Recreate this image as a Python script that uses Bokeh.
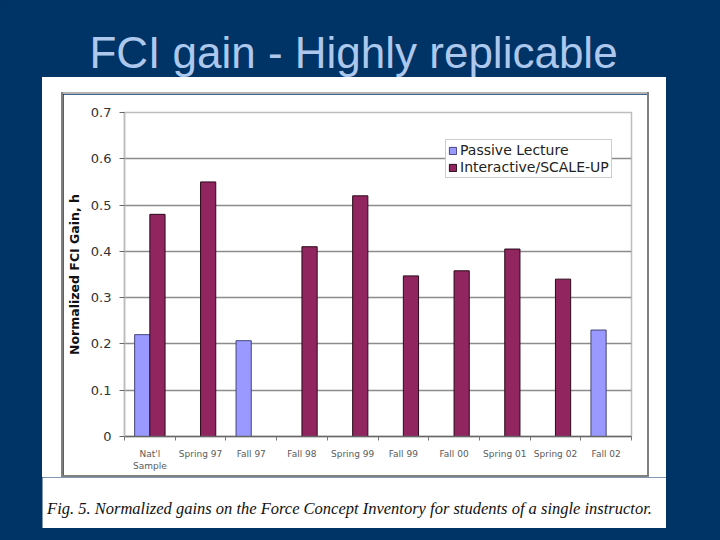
from bokeh.plotting import figure
from bokeh.layouts import column, row
from bokeh.models import (Range1d, FixedTicker, Label, ColumnDataSource, Legend, LegendItem, Spacer)
from bokeh.embed import file_html
from bokeh.resources import INLINE

# ---- data ----
categories = ["Nat'l\nSample", "Spring 97", "Fall 97", "Fall 98", "Spring 99",
              "Fall 99", "Fall 00", "Spring 01", "Spring 02", "Fall 02"]
passive = [0.22, None, 0.207, None, None, None, None, None, None, 0.23]
interactive = [0.48, 0.55, None, 0.41, 0.52, 0.347, 0.358, 0.405, 0.34, None]
series_names = ["Passive Lecture", "Interactive/SCALE-UP"]
y_ticks = [0, 0.1, 0.2, 0.3, 0.4, 0.5, 0.6, 0.7]
y_tick_labels = ["0", "0.1", "0.2", "0.3", "0.4", "0.5", "0.6", "0.7"]
title_text = "FCI gain - Highly replicable"
caption_text = "Fig. 5. Normalized gains on the Force Concept Inventory for students of a single instructor."
y_label = "Normalized FCI Gain, h"

# ---- style ----
BG = "#003366"
TITLE_COLOR = "#ADC8EC"
PASSIVE_COLOR = "#9999FF"
INTER_COLOR = "#912560"
BOX_LIGHT = "#b4b4b4"
BOX_DARK = "#808080"
BAR_W = 0.30
TITLE_SIZE = 44
CAP_SIZE = 16.5
BASE_SHIFT = 0.36   # empirical em offset of the label anchor above the baseline


def block(w, h, color=None):
    if color is None:
        return Spacer(width=w, height=h)
    return Spacer(width=w, height=h, styles={"background-color": color})


def deco_fig(w, h, fill):
    f = figure(width=w, height=h, output_backend="svg", toolbar_location=None,
               x_range=Range1d(0, w), y_range=Range1d(h, 0),
               min_border=0, border_fill_color=fill, background_fill_color=fill,
               outline_line_color=None)
    f.axis.visible = False
    f.grid.visible = False
    return f


# ---- slide title ----
title_fig = deco_fig(720, 77, BG)
title_fig.add_layout(Label(x=353, y=68 - BASE_SHIFT * TITLE_SIZE, text=title_text, text_align="center",
                           text_baseline="alphabetic", text_font="Liberation Sans",
                           text_font_size=f"{TITLE_SIZE}px", text_color=TITLE_COLOR))

# ---- chart ----
CW, CH = 584, 381          # chart canvas (page x 63..647, y 94..475)
p = figure(width=CW, height=CH, output_backend="svg", toolbar_location=None,
           x_range=Range1d(0, len(categories)), y_range=Range1d(0, 0.7),
           min_border_left=55, min_border_right=16, min_border_top=18, min_border_bottom=39,
           border_fill_color="white", background_fill_color="white",
           outline_line_color="#bdbdbd", outline_line_width=1.5)

px_ = [i + 0.5 - BAR_W / 2 for i, v in enumerate(passive) if v is not None]
pv = [v for v in passive if v is not None]
ix_ = [i + 0.5 + BAR_W / 2 for i, v in enumerate(interactive) if v is not None]
iv = [v for v in interactive if v is not None]
r_p = p.vbar(x="x", top="top", bottom=0, width=BAR_W, source=ColumnDataSource(dict(x=px_, top=pv)),
             fill_color=PASSIVE_COLOR, line_color="#45457a", line_width=1)
r_i = p.vbar(x="x", top="top", bottom=0, width=BAR_W, source=ColumnDataSource(dict(x=ix_, top=iv)),
             fill_color=INTER_COLOR, line_color="#2a0a1a", line_width=1)

p.xaxis.ticker = FixedTicker(ticks=[i + 0.5 for i in range(len(categories))],
                             minor_ticks=list(range(len(categories) + 1)))
p.xaxis.major_label_overrides = {i + 0.5: c for i, c in enumerate(categories)}
p.xaxis.major_tick_out = 0
p.xaxis.major_tick_in = 0
p.xaxis.minor_tick_out = 4
p.xaxis.minor_tick_in = 0
p.xaxis.minor_tick_line_color = "#777777"
p.xaxis.axis_line_color = "#666666"
p.xaxis.axis_line_width = 1.5
p.xaxis.major_label_standoff = 8
p.xaxis.major_label_text_font = "DejaVu Sans"
p.xaxis.major_label_text_font_size = "9px"
p.xaxis.major_label_text_color = "#5a5a5a"

p.yaxis.ticker = FixedTicker(ticks=y_ticks, minor_ticks=[])
p.yaxis.major_label_overrides = {t: s for t, s in zip(y_ticks, y_tick_labels)}
p.yaxis.major_tick_out = 5
p.yaxis.major_tick_in = 0
p.yaxis.major_tick_line_color = "#666666"
p.yaxis.axis_line_color = "#bdbdbd"
p.yaxis.axis_line_width = 1.5
p.yaxis.major_label_standoff = 8
p.yaxis.major_label_text_font = "DejaVu Sans"
p.yaxis.major_label_text_font_size = "13px"
p.yaxis.major_label_text_color = "#333333"
p.yaxis.axis_label = y_label
p.yaxis.axis_label_standoff = 6
p.yaxis.axis_label_text_font = "DejaVu Sans"
p.yaxis.axis_label_text_font_style = "bold"
p.yaxis.axis_label_text_font_size = "12.5px"
p.yaxis.axis_label_text_color = "#111111"

p.xgrid.grid_line_color = None
p.ygrid.grid_line_color = "#8c8c8c"
p.ygrid.grid_line_width = 1.5

legend = Legend(items=[LegendItem(label=series_names[0], renderers=[r_p]),
                       LegendItem(label=series_names[1], renderers=[r_i])],
                location=(439 - 118, 436 - 178), orientation="vertical",
                glyph_width=9, glyph_height=9, label_height=16, label_standoff=3,
                padding=2, spacing=1, margin=0,
                label_text_font="DejaVu Sans", label_text_font_size="14px",
                label_text_color="#222222",
                border_line_color="#9a9a9a", border_line_width=1,
                background_fill_color="white", background_fill_alpha=1.0)
p.add_layout(legend)

# gray chart border around the chart canvas
chart_box = row(block(2, 385, BOX_DARK),
                column(block(CW, 2, BOX_LIGHT), p, block(CW, 2, BOX_DARK)),
                block(2, 385, BOX_DARK))

# ---- caption ----
cap_fig = deco_fig(624, 51, "white")
cap_fig.add_layout(Label(x=349 - 42, y=514 - 477 - BASE_SHIFT * CAP_SIZE, text=caption_text,
                         text_align="center", text_baseline="alphabetic",
                         text_font="Liberation Serif", text_font_style="italic",
                         text_font_size=f"{CAP_SIZE}px", text_color="#111111"))

# ---- white slide panel (page x 42..666, y 77..528) ----
panel = column(block(624, 15, "white"),
               row(block(19, 385, "white"), chart_box, block(17, 385, "white")),
               cap_fig)

page = column(title_fig,
              row(block(42, 451), panel, block(54, 451)),
              block(720, 12))

html = file_html(page, INLINE)
html = html.replace("<head>", "<head><style>body{background:#003366;}</style>", 1)
open("out.html", "w").write(html)
